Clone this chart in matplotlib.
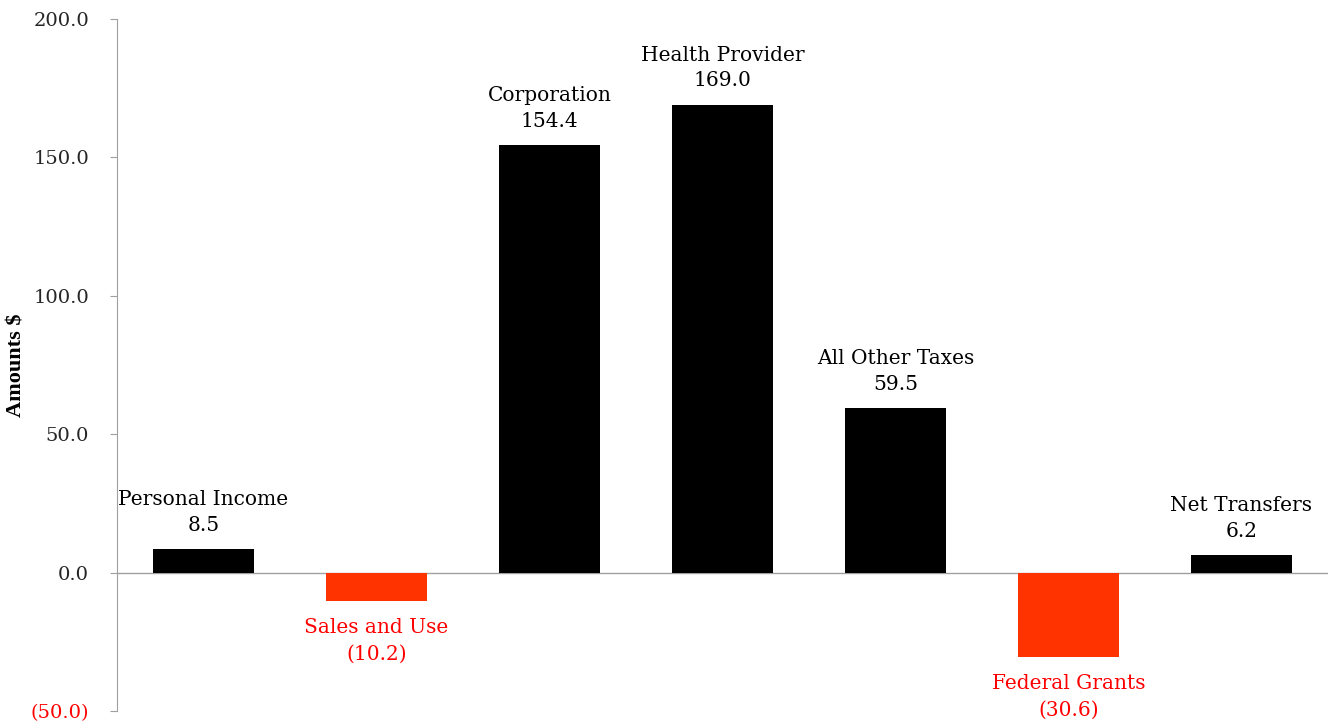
import matplotlib
matplotlib.use("Agg")
import matplotlib.pyplot as plt

categories = ["Personal Income", "Sales and Use", "Corporation", "Health Provider",
              "All Other Taxes", "Federal Grants", "Net Transfers"]
values = [8.5, -10.2, 154.4, 169.0, 59.5, -30.6, 6.2]
yticks = [-50, 0, 50, 100, 150, 200]
ytick_labels = ["(50.0)", "0.0", "50.0", "100.0", "150.0", "200.0"]

plt.rcParams['font.family'] = ['DejaVu Serif']
fig = plt.figure(figsize=(13.28, 7.25), dpi=100)
ax = fig.add_axes([0.0881, 0.0193, 0.9119, 0.9545])

pos_color = "#000000"
neg_color = "#FF3300"
neg_text = "#FF0000"
x = list(range(len(categories)))
colors = [pos_color if v >= 0 else neg_color for v in values]
ax.bar(x, values, width=0.585, color=colors, zorder=3)
ax.axhline(0, color="#A0A0A0", lw=1, zorder=2)

for xi, (c, v) in enumerate(zip(categories, values)):
    if v >= 0:
        ax.text(xi, v + 5.2, f"{c}\n{v:.1f}", ha="center", va="bottom", fontsize=14.5,
                color="black", linespacing=1.45)
    else:
        ax.text(xi, v - 6.2, f"{c}\n({abs(v):.1f})", ha="center", va="top", fontsize=14.5,
                color=neg_text, linespacing=1.5)

ax.set_xlim(-0.5, len(categories) - 0.5)
ax.set_ylim(-50, 200)
ax.set_yticks(yticks)
ax.set_yticklabels(ytick_labels, fontsize=14)
for lbl, t in zip(ax.get_yticklabels(), yticks):
    lbl.set_color(neg_text if t < 0 else "#262626")
ax.tick_params(axis="y", direction="out", length=5, color="#A0A0A0", pad=15)
ax.set_xticks([])
for s in ["top", "right", "bottom"]:
    ax.spines[s].set_visible(False)
ax.spines["left"].set_color("#A0A0A0")
ax.set_ylabel("Amounts $", fontsize=16, fontweight="bold",
              family=["Liberation Serif", "DejaVu Serif"])
ax.yaxis.set_label_coords(-0.0745, 0.5)

fig.savefig("out.png", dpi=100)
